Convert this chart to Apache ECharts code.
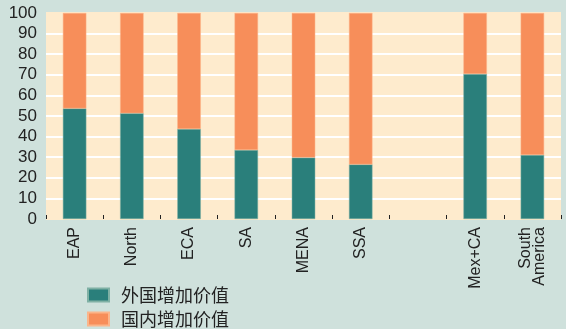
<!DOCTYPE html>
<html>
<head>
<meta charset="utf-8">
<script src="https://cdn.jsdelivr.net/npm/echarts@6/dist/echarts.min.js"></script>
<style>
  html, body { margin: 0; padding: 0; background: #cfe1dc; }
  #chart { width: 566px; height: 329px; }
</style>
</head>
<body>
<div id="chart"></div>
<script>
// regions (7th slot is an empty gap in the original)
const categories = ['EAP', 'North', 'ECA', 'SA', 'MENA', 'SSA', '', 'Mex+CA', 'South\nAmerica'];
const foreignVA = [53.7, 51.3, 43.7, 33.5, 29.8, 26.5, null, 70.4, 31.1];
const domesticVA = foreignVA.map(v => (v == null ? null : +(100 - v).toFixed(1)));
const seriesNames = ['外国增加价值', '国内增加价值'];

const chart = echarts.init(document.getElementById('chart'));

// white gridlines only between 10 and 90 (0 and 100 hidden in plot colour)
const gridColors = ['#feebcd'].concat(new Array(9).fill('#ffffff'), ['#feebcd']);

// one legend per row, stacked
const legendRow = (name, top) => ({
    left: 87, top: top,
    padding: 0,
    itemWidth: 21, itemHeight: 13,
    icon: 'rect',
    textStyle: {
        fontFamily: 'Noto Sans CJK SC', fontSize: 18, color: '#222',
        padding: [0, 0, 0, 7]
    },
    data: [name]
});

const option = {
    backgroundColor: '#cfe1dc',
    animation: false,
    textStyle: { fontFamily: 'Liberation Sans, Arial, sans-serif' },
    grid: {
        left: 46, right: 5, top: 13, bottom: 110,
        show: true, backgroundColor: '#feebcd', borderWidth: 0
    },
    legend: [legendRow(seriesNames[0], 286), legendRow(seriesNames[1], 310)],
    xAxis: {
        type: 'category',
        data: categories,
        axisLine: { show: false },
        axisTick: { show: true, inside: true, length: 4, lineStyle: { color: '#222' } },
        axisLabel: {
            rotate: 90, interval: 0, margin: 8,
            fontSize: 16, color: '#222', lineHeight: 14
        },
        splitLine: { show: false }
    },
    yAxis: {
        type: 'value',
        min: 0, max: 100, interval: 10,
        axisLine: { show: false },
        axisTick: { show: false },
        axisLabel: { fontSize: 17, color: '#222', margin: 9 },
        splitLine: { show: true, lineStyle: { color: gridColors, width: 2 } }
    },
    series: [
        {
            name: seriesNames[0],
            type: 'bar',
            stack: 'va',
            data: foreignVA,
            barWidth: '41%',
            itemStyle: { color: '#2a7f7b', borderColor: '#7fb0a4', borderWidth: 0.5 }
        },
        {
            name: seriesNames[1],
            type: 'bar',
            stack: 'va',
            data: domesticVA,
            barWidth: '41%',
            itemStyle: { color: '#f78e5a', borderColor: '#fbb58a', borderWidth: 0.5 }
        }
    ]
};

chart.setOption(option);
</script>
</body>
</html>
